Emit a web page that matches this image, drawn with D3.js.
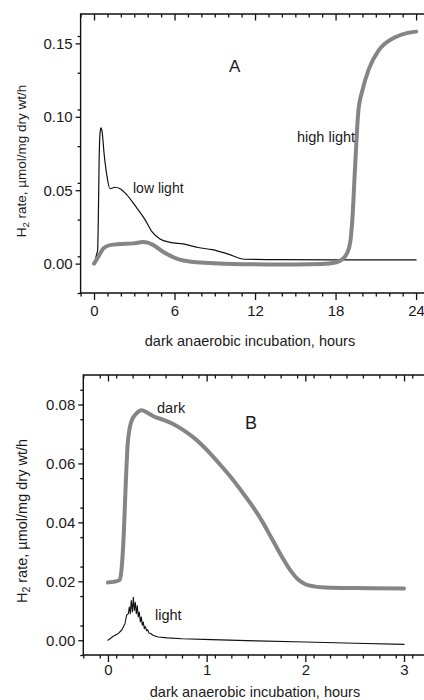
<!DOCTYPE html>
<html>
<head>
<meta charset="utf-8">
<script src="https://cdn.jsdelivr.net/npm/d3@7"></script>
<style>
  body { margin: 0; background: #fff; }
  svg text { font-family: "Liberation Sans", Arial, sans-serif; fill: #1a1a1a; }
</style>
</head>
<body>
<div id="chart-area"></div>
<script>

// ---- panel A : hydrogen rate over 24 h ----
var lowLightHours = [0, 0.07, 0.15, 0.27, 0.32, 0.38, 0.45, 0.52, 0.6, 0.75, 0.94, 1.19, 1.56, 1.94, 2.43, 3.18, 3.8, 4.3, 4.92, 5.66, 6.65, 7.77, 8.8, 10.0, 11.2, 14, 18, 24];
var lowLightRate  = [0, 0.0006, 0.0047, 0.0093, 0.03, 0.07, 0.089, 0.0925, 0.09, 0.075, 0.061, 0.051, 0.052, 0.051, 0.047, 0.038, 0.030, 0.022, 0.0168, 0.0145, 0.0134, 0.011, 0.0095, 0.0065, 0.003, 0.0027, 0.0026, 0.0025];

var highLightHours = [0, 0.32, 0.7, 1.19, 1.94, 2.93, 3.68, 4.0, 4.42, 5.17, 6.16, 7.4, 9, 12, 15, 17, 18, 18.5, 18.85, 19.1, 19.25, 19.45, 19.7, 20.0, 20.5, 21.2, 22.4, 23.3, 24];
var highLightRate  = [0, 0.0047, 0.0104, 0.0126, 0.0133, 0.0138, 0.0148, 0.0143, 0.0126, 0.0079, 0.0034, 0.0011, 0.0002, -0.0005, -0.0006, -0.0003, 0.0008, 0.003, 0.007, 0.015, 0.030, 0.065, 0.104, 0.118, 0.133, 0.145, 0.154, 0.157, 0.158];

var xTicksA = [0, 6, 12, 18, 24];
var yTicksA = [0, 0.05, 0.10, 0.15];

// ---- panel B : first 3 h ----
var darkHours = [0, 0.05, 0.12, 0.14, 0.16, 0.18, 0.2, 0.22, 0.24, 0.29, 0.34, 0.4, 0.46, 0.56, 0.66, 0.76, 0.86, 0.96, 1.06, 1.16, 1.26, 1.36, 1.46, 1.56, 1.66, 1.76, 1.86, 1.93, 2.0, 2.1, 2.2, 2.5, 3.0];
var darkRate  = [0.0196, 0.0198, 0.0205, 0.025, 0.036, 0.053, 0.0666, 0.072, 0.0745, 0.077, 0.078, 0.0772, 0.0760, 0.0748, 0.0734, 0.0714, 0.0690, 0.0660, 0.0625, 0.0587, 0.0547, 0.0503, 0.0457, 0.0405, 0.0345, 0.0285, 0.0232, 0.0205, 0.0190, 0.0182, 0.0179, 0.0177, 0.0176];

var lightHours = [0, 0.054, 0.105, 0.138, 0.172, 0.189, 0.206, 0.216, 0.226, 0.236, 0.247, 0.257, 0.267, 0.277, 0.287, 0.297, 0.307, 0.317, 0.328, 0.338, 0.348, 0.358, 0.368, 0.378, 0.392, 0.402, 0.415, 0.432, 0.459, 0.51, 0.6, 0.75, 1.05, 1.5, 2.0, 2.5, 3.0];
var lightRate  = [0, 0.00135, 0.0023, 0.0034, 0.0056, 0.0085, 0.009, 0.0113, 0.009, 0.0135, 0.0096, 0.0146, 0.0101, 0.0129, 0.009, 0.0118, 0.0079, 0.0096, 0.0062, 0.0079, 0.0051, 0.0062, 0.0039, 0.0047, 0.0032, 0.0036, 0.0025, 0.0023, 0.0016, 0.0011, 0.0008, 0.0005, 0.0002, -0.0002, -0.0006, -0.001, -0.0014];

var xTicksB = [0, 1, 2, 3];
var yTicksB = [0, 0.02, 0.04, 0.06, 0.08];


var total_width = 424;
var total_height = 700;

var svg = d3.select('#chart-area').append('svg')
            .attr("width", total_width)
            .attr("height", total_height);

function zip(xs, ys) {
    return xs.map(function(x, i){ return {h: x, v: ys[i]}; });
}

function drawPanel(p) {
    var x = d3.scaleLinear().domain(p.xDomain).range([p.left, p.right]);
    var y = d3.scaleLinear().domain(p.yDomain).range([p.bottom, p.top]);
    var g = svg.append('g');

    // frame (right side runs off the picture)
    g.append('path')
     .attr("d", "M" + (total_width + 5) + "," + p.top + "H" + p.left + "V" + p.bottom + "H" + (total_width + 5))
     .attr("fill", "none").attr("stroke", "#111").attr("stroke-width", 1.4);

    var minorX = d3.range(p.xDomain[0], p.xDomain[1] + 1e-9, p.xMinor)
                   .filter(function(t){ return p.xTicks.every(function(m){ return Math.abs(m - t) > 1e-6; }); });
    var minorY = d3.range(p.yDomain[0], p.yDomain[1], p.yMinor)
                   .filter(function(t){ return p.yTicks.every(function(m){ return Math.abs(m - t) > 1e-6; }); });

    // bottom axis (ticks outward)
    g.append('g').attr("transform", "translate(0," + p.bottom + ")")
     .call(d3.axisBottom(x).tickValues(p.xTicks).tickSize(7).tickPadding(p.xPad).tickFormat(d3.format("d")))
     .call(styleAxis);
    g.append('g').attr("transform", "translate(0," + p.bottom + ")")
     .call(d3.axisBottom(x).tickValues(minorX).tickSize(3.5).tickFormat(""))
     .call(styleAxis);
    // top axis (ticks inward)
    g.append('g').attr("transform", "translate(0," + p.top + ")")
     .call(d3.axisTop(x).tickValues(p.xTicks).tickSize(-6.5).tickFormat(""))
     .call(styleAxis);
    g.append('g').attr("transform", "translate(0," + p.top + ")")
     .call(d3.axisTop(x).tickValues(minorX).tickSize(-3.5).tickFormat(""))
     .call(styleAxis);
    // left axis (ticks outward)
    g.append('g').attr("transform", "translate(" + p.left + ",0)")
     .call(d3.axisLeft(y).tickValues(p.yTicks).tickSize(5).tickPadding(3).tickFormat(d3.format(".2f")))
     .call(styleAxis);
    g.append('g').attr("transform", "translate(" + p.left + ",0)")
     .call(d3.axisLeft(y).tickValues(minorY).tickSize(3).tickFormat(""))
     .call(styleAxis);

    var line = d3.line().x(function(d){ return x(d.h); }).y(function(d){ return y(d.v); });

    p.series.forEach(function(s){
        g.append('path')
         .datum(zip(s.hours, s.rate))
         .attr("d", line.curve(s.curve))
         .attr("fill", "none")
         .attr("stroke", s.color)
         .attr("stroke-width", s.width)
         .attr("stroke-linejoin", "round")
         .attr("stroke-linecap", "round");
    });

    // axis titles
    g.append('text')
     .attr("x", p.xTitle[0]).attr("y", p.xTitle[1])
     .attr("text-anchor", "middle")
     .attr("font-size", "14.5px")
     .text("dark anaerobic incubation, hours");

    var yt = g.append('text')
              .attr("transform", "translate(" + p.yTitle[0] + "," + p.yTitle[1] + ") rotate(-90)")
              .attr("text-anchor", "middle")
              .attr("font-size", p.yTitleSize + "px");
    yt.append('tspan').text("H");
    yt.append('tspan').attr("font-size", "0.72em").attr("dy", "0.3em").text("2");
    yt.append('tspan').attr("dy", "-0.216em").text(" rate, \u00b5mol/mg dry wt/h");

    p.notes.forEach(function(n){
        g.append('text')
         .attr("x", n.x).attr("y", n.y)
         .attr("font-size", n.size + "px")
         .text(n.text);
    });
}

function styleAxis(sel) {
    sel.select(".domain").remove();
    sel.selectAll(".tick line").attr("stroke", "#111").attr("stroke-width", 1.3);
    sel.selectAll(".tick text")
       .attr("font-family", "Liberation Sans, Arial, sans-serif")
       .attr("font-size", "15px")
       .attr("fill", "#1a1a1a");
}

drawPanel({
    xDomain: [-1, 25], yDomain: [-0.02, 0.17],
    left: 80.6, right: 429.5, top: 14, bottom: 293,
    xTicks: xTicksA, yTicks: yTicksA,
    xMinor: 1, yMinor: 0.025, xPad: 5,
    xTitle: [250, 346], yTitle: [26, 161], yTitleSize: 13.5,
    series: [
        {hours: lowLightHours, rate: lowLightRate, color: "#111", width: 1.2, curve: d3.curveMonotoneX},
        {hours: highLightHours, rate: highLightRate, color: "#858585", width: 4, curve: d3.curveMonotoneX}
    ],
    notes: [
        {text: "A", x: 229, y: 72, size: 17},
        {text: "low light", x: 133, y: 193, size: 14},
        {text: "high light", x: 297, y: 142, size: 14.5}
    ]
});

drawPanel({
    xDomain: [-0.25, 3.25], yDomain: [-0.005, 0.09],
    left: 83.3, right: 428.7, top: 375, bottom: 655,
    xTicks: xTicksB, yTicks: yTicksB,
    xMinor: 1 / 6, yMinor: 0.01, xPad: 2,
    xTitle: [255, 697], yTitle: [27, 521], yTitleSize: 14.5,
    series: [
        {hours: darkHours, rate: darkRate, color: "#858585", width: 4, curve: d3.curveMonotoneX},
        {hours: lightHours, rate: lightRate, color: "#111", width: 1.1, curve: d3.curveLinear}
    ],
    notes: [
        {text: "B", x: 245, y: 429, size: 18},
        {text: "dark", x: 157, y: 413, size: 14.5},
        {text: "light", x: 155, y: 620, size: 14.5}
    ]
});

</script>
</body>
</html>
